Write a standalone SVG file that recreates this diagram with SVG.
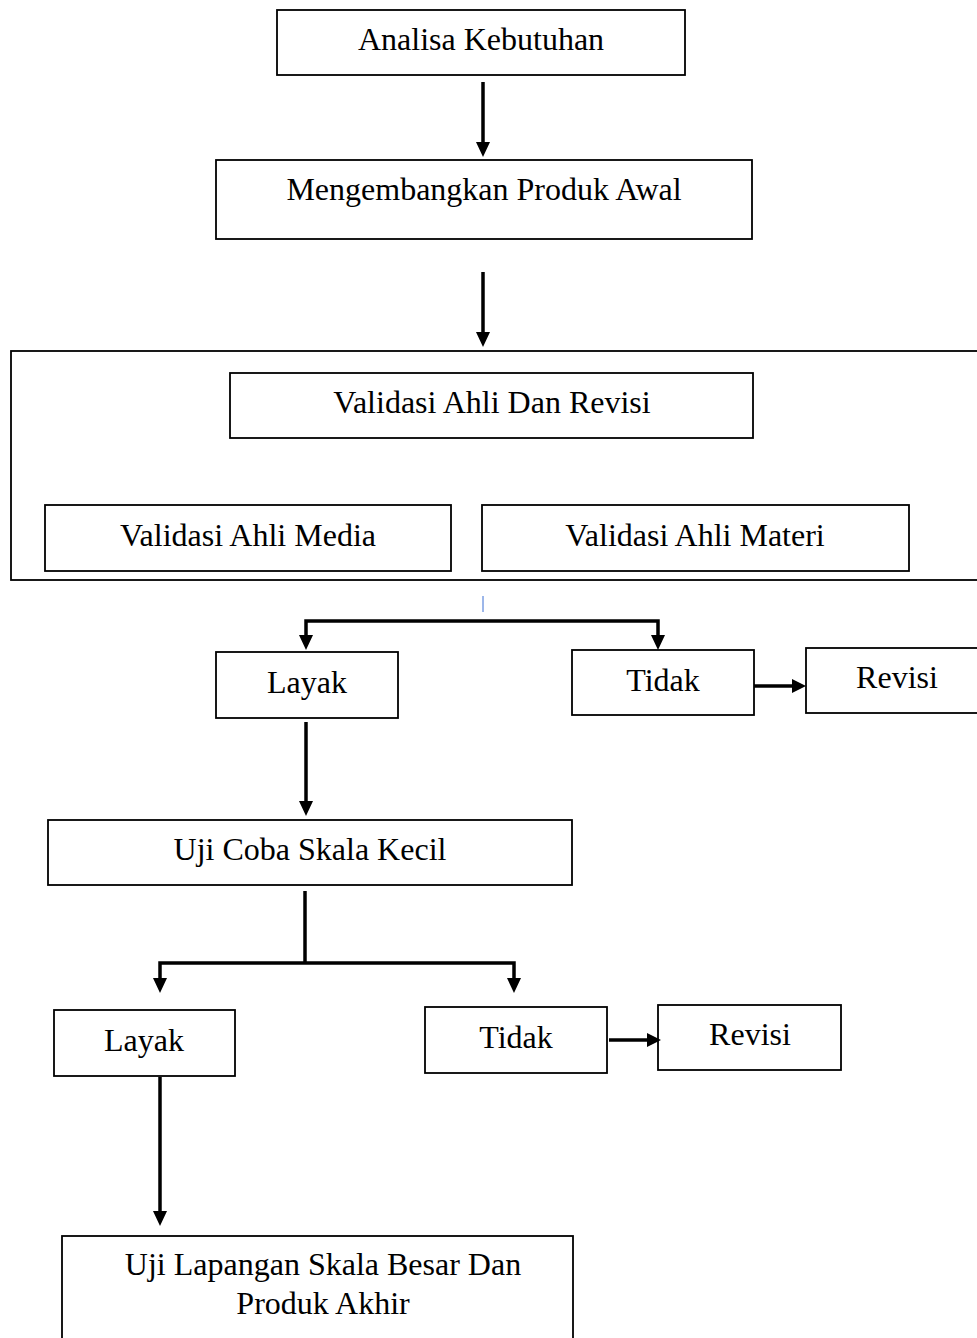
<svg xmlns="http://www.w3.org/2000/svg" width="977" height="1338" viewBox="0 0 977 1338">
<style>
.box{fill:#fff;stroke:#000;stroke-width:1.8}
.lbl{font-family:"Liberation Serif","Times New Roman",serif;font-size:32px;fill:#000;text-anchor:middle}
.con{fill:none;stroke:#000;stroke-width:3.5}
.ah{fill:#000}
</style>
<rect width="977" height="1338" fill="#fff"/>
<g id="container"><rect class="box" x="11" y="351" width="980" height="229"/></g>
<g id="n-analisa"><rect class="box" x="277" y="10" width="408" height="65"/><text class="lbl" x="481" y="50">Analisa Kebutuhan</text></g>
<g id="n-mengembangkan"><rect class="box" x="216" y="160" width="536" height="79"/><text class="lbl" x="484" y="200">Mengembangkan Produk Awal</text></g>
<g id="n-validasi"><rect class="box" x="230" y="373" width="523" height="65"/><text class="lbl" x="492" y="413">Validasi Ahli Dan Revisi</text></g>
<g id="n-media"><rect class="box" x="45" y="505" width="406" height="66"/><text class="lbl" x="248" y="546">Validasi Ahli Media</text></g>
<g id="n-materi"><rect class="box" x="482" y="505" width="427" height="66"/><text class="lbl" x="695" y="546">Validasi Ahli Materi</text></g>
<g id="n-layak1"><rect class="box" x="216" y="652" width="182" height="66"/><text class="lbl" x="307" y="693">Layak</text></g>
<g id="n-tidak1"><rect class="box" x="572" y="650" width="182" height="65"/><text class="lbl" x="663" y="691">Tidak</text></g>
<g id="n-revisi1"><rect class="box" x="806" y="648" width="190" height="65"/><text class="lbl" x="897" y="688">Revisi</text></g>
<g id="n-ujikecil"><rect class="box" x="48" y="820" width="524" height="65"/><text class="lbl" x="310" y="860">Uji Coba Skala Kecil</text></g>
<g id="n-layak2"><rect class="box" x="54" y="1010" width="181" height="66"/><text class="lbl" x="144" y="1051">Layak</text></g>
<g id="n-tidak2"><rect class="box" x="425" y="1007" width="182" height="66"/><text class="lbl" x="516" y="1048">Tidak</text></g>
<g id="n-revisi2"><rect class="box" x="658" y="1005" width="183" height="65"/><text class="lbl" x="750" y="1045">Revisi</text></g>
<g id="n-ujilapangan"><rect class="box" x="62" y="1236" width="511" height="120"/><text class="lbl" x="323" y="1275">Uji Lapangan Skala Besar Dan</text><text class="lbl" x="323" y="1314">Produk Akhir</text></g>
<g id="connectors">
<path class="con" d="M483 82V143"/><path class="ah" d="M476 142H490L483 157Z"/>
<path class="con" d="M483 272V333"/><path class="ah" d="M476 332H490L483 347Z"/>
<path d="M483 596V612" stroke="#3b6fd4" stroke-width="1" fill="none"/>
<path class="con" d="M306 637V621H658V637"/><path class="ah" d="M299 635H313L306 650Z"/><path class="ah" d="M651 635H665L658 650Z"/>
<path class="con" d="M754 686H793" stroke-width="4"/><path class="ah" d="M792 679V693L806 686Z"/>
<path class="con" d="M306 722V802"/><path class="ah" d="M299 801H313L306 816Z"/>
<path class="con" d="M305 891V963"/>
<path class="con" d="M160 980V963H514V980"/><path class="ah" d="M153 978H167L160 993Z"/><path class="ah" d="M507 978H521L514 993Z"/>
<path class="con" d="M609 1040H648" stroke-width="4"/><path class="ah" d="M647 1033V1047L661 1040Z"/>
<path class="con" d="M160 1077V1212"/><path class="ah" d="M153 1211H167L160 1226Z"/>
</g>
</svg>
